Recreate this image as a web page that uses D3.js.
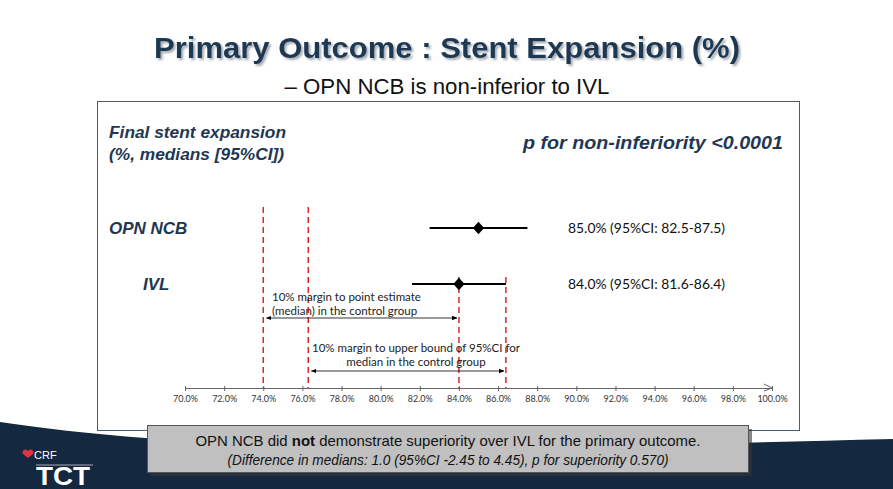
<!DOCTYPE html>
<html>
<head>
<meta charset="utf-8">
<script src="https://cdn.jsdelivr.net/npm/d3@7"></script>
<style>
  body { margin: 0; background: #fff; }
  svg { display: block; }
</style>
</head>
<body>
<svg id="chart" width="893" height="489"></svg>
<script>
// Chart data
const groups = ['OPN NCB', 'IVL'];
const medians = [85.0, 84.0];
const ciLow = [82.5, 81.6];
const ciHigh = [87.5, 86.4];
const resultLabels = ['85.0% (95%CI: 82.5-87.5)', '84.0% (95%CI: 81.6-86.4)'];
const xTicks = [70, 72, 74, 76, 78, 80, 82, 84, 86, 88, 90, 92, 94, 96, 98, 100];
// margin lines: 10% below control median, 10% below control upper CI bound
const marginLines = [74.0, 76.3];
const controlRefs = [84.0, 86.4];

const svg = d3.select('#chart');
const navy = '#1f3753';
const red = '#d8282e';
const narrow = '"Liberation Sans Narrow", "Arial Narrow", "Liberation Sans", sans-serif';
const calibri = 'Lato, "Open Sans", sans-serif';

const defs = svg.append('defs');
const shadow = defs.append('filter').attr('id', 'shadow')
    .attr('x', '-5%').attr('y', '-20%').attr('width', '110%').attr('height', '150%');
shadow.append('feDropShadow').attr('dx', 2).attr('dy', 2).attr('stdDeviation', 1)
    .attr('flood-color', '#7d8894').attr('flood-opacity', 0.7);

// bottom dark band
svg.append('rect').attr('x', 0).attr('y', 380).attr('width', 893).attr('height', 109).attr('fill', '#14283f');
svg.append('path')
    .attr('d', 'M0,380 L893,380 L893,439 Q600,446 447,452 Q150,445 0,422 Z')
    .attr('fill', '#fff');

// title
svg.append('text').attr('x', 447).attr('y', 58)
    .attr('text-anchor', 'middle').attr('font-family', narrow).attr('font-weight', 'bold')
    .attr('font-size', 30).attr('fill', navy).attr('filter', 'url(#shadow)')
    .attr('textLength', 586).attr('lengthAdjust', 'spacingAndGlyphs')
    .text('Primary Outcome : Stent Expansion (%)');
svg.append('text').attr('x', 447).attr('y', 94)
    .attr('text-anchor', 'middle').attr('font-family', narrow)
    .attr('font-size', 22).attr('fill', '#111')
    .attr('textLength', 325).attr('lengthAdjust', 'spacingAndGlyphs')
    .text('\u2013 OPN NCB is non-inferior to IVL');

// panel box
svg.append('rect').attr('x', 97.5).attr('y', 101.5).attr('width', 702).attr('height', 329)
    .attr('fill', '#fff').attr('stroke', '#4d5b6a').attr('stroke-width', 1);

// scales
const x = d3.scaleLinear().domain([70, 100]).range([185, 772]);
const y = d3.scalePoint().domain(groups).range([228, 284]);
const axisY = 388;

// headings
const head = svg.append('g').attr('font-family', '"Liberation Sans", Arial, sans-serif')
    .attr('font-weight', 'bold').attr('font-style', 'italic').attr('fill', navy);
head.append('text').attr('x', 109).attr('y', 138).attr('font-size', 17)
    .attr('textLength', 177).attr('lengthAdjust', 'spacingAndGlyphs').text('Final stent expansion');
head.append('text').attr('x', 109).attr('y', 160).attr('font-size', 17)
    .attr('textLength', 175).attr('lengthAdjust', 'spacingAndGlyphs').text('(%, medians [95%CI])');
head.append('text').attr('x', 523).attr('y', 149).attr('font-size', 18)
    .attr('textLength', 260).attr('lengthAdjust', 'spacingAndGlyphs').text('p for non-inferiority <0.0001');
head.selectAll('.grp').data(groups).enter().append('text')
    .attr('x', (d, i) => i === 0 ? 109 : 143)
    .attr('y', d => y(d) + 6)
    .attr('font-size', 17)
    .text(d => d);

// red dashed margin / reference lines
const dashed = svg.append('g').attr('stroke', red).attr('stroke-width', 1.5).attr('stroke-dasharray', '6,4');
dashed.selectAll('.m').data(marginLines).enter().append('line')
    .attr('x1', d => x(d)).attr('x2', d => x(d))
    .attr('y1', 207).attr('y2', axisY);
dashed.selectAll('.c').data(controlRefs).enter().append('line')
    .attr('x1', d => x(d)).attr('x2', d => x(d))
    .attr('y1', y('IVL') - 7).attr('y2', axisY);

// axis
const axis = d3.axisBottom(x).tickValues(xTicks).tickSize(3)
    .tickFormat(d => d.toFixed(1) + '%');
const ax = svg.append('g').attr('transform', `translate(0,${axisY})`).call(axis);
ax.select('.domain').attr('stroke', '#666');
ax.selectAll('.tick line').attr('stroke', '#666').attr('y1', -2);
ax.selectAll('.tick text').attr('font-family', calibri).attr('font-size', 9)
    .attr('fill', '#333').attr('dy', '0.9em');
ax.append('path').attr('d', `M${x(100) - 8},-4 L${x(100)},0 L${x(100) - 8},3`)
    .attr('fill', 'none').attr('stroke', '#666');

// CI lines and diamonds
const rows = svg.append('g');
rows.selectAll('.ci').data(groups).enter().append('line')
    .attr('x1', (d, i) => x(ciLow[i])).attr('x2', (d, i) => x(ciHigh[i]))
    .attr('y1', d => y(d)).attr('y2', d => y(d))
    .attr('stroke', '#000').attr('stroke-width', 2);
rows.selectAll('.pt').data(groups).enter().append('path')
    .attr('d', d3.symbol(d3.symbolDiamond2, 80))
    .attr('transform', (d, i) => `translate(${x(medians[i])},${y(d)}) scale(1,1.1)`)
    .attr('fill', '#000');
rows.selectAll('.lab').data(groups).enter().append('text')
    .attr('x', 568).attr('y', d => y(d) + 5)
    .attr('font-family', calibri).attr('font-size', 14).attr('fill', '#111')
    .attr('textLength', 157).attr('lengthAdjust', 'spacingAndGlyphs')
    .text((d, i) => resultLabels[i]);

// double arrows for margins
defs.append('marker').attr('id', 'ah').attr('viewBox', '0 0 10 10')
    .attr('refX', 9).attr('refY', 5).attr('markerWidth', 7).attr('markerHeight', 7)
    .attr('orient', 'auto-start-reverse')
    .append('path').attr('d', 'M0,1 L10,5 L0,9 Z').attr('fill', '#000');
const arrows = [
    { from: marginLines[0], to: controlRefs[0], y: 318, lines: ['10% margin to point estimate', '(median) in the control group'], tx: 272, anchor: 'start', ty: 301 },
    { from: marginLines[1], to: controlRefs[1], y: 371, lines: ['10% margin to upper bound of 95%CI for', 'median in the control group'], tx: 416, anchor: 'middle', ty: 352 }
];
arrows.forEach(a => {
    svg.append('line')
        .attr('x1', x(a.from) + 3).attr('x2', x(a.to) - 2)
        .attr('y1', a.y).attr('y2', a.y)
        .attr('stroke', '#000').attr('stroke-width', 0.8)
        .attr('marker-start', 'url(#ah)').attr('marker-end', 'url(#ah)');
    a.lines.forEach((t, k) => {
        svg.append('text').attr('x', a.tx).attr('y', a.ty + k * 14)
            .attr('text-anchor', a.anchor)
            .attr('font-family', calibri).attr('font-size', 11.5).attr('fill', '#222')
            .text(t);
    });
});

// callout box
svg.append('rect').attr('x', 150).attr('y', 429).attr('width', 602).attr('height', 47).attr('fill', '#333').attr('opacity', 0.6);
svg.append('rect').attr('x', 147.5).attr('y', 425.5).attr('width', 601).attr('height', 47)
    .attr('fill', '#c0c0c0').attr('stroke', '#555');
const l1 = svg.append('text').attr('x', 448).attr('y', 446).attr('text-anchor', 'middle')
    .attr('font-family', narrow).attr('font-size', 15).attr('fill', '#111')
    .attr('textLength', 505).attr('lengthAdjust', 'spacingAndGlyphs');
l1.append('tspan').text('OPN NCB did ');
l1.append('tspan').attr('font-weight', 'bold').text('not');
l1.append('tspan').text(' demonstrate superiority over IVL for the primary outcome.');
svg.append('text').attr('x', 448).attr('y', 465).attr('text-anchor', 'middle')
    .attr('font-family', narrow).attr('font-size', 14).attr('font-style', 'italic').attr('fill', '#111')
    .attr('textLength', 441).attr('lengthAdjust', 'spacingAndGlyphs')
    .text('(Difference in medians: 1.0 (95%CI -2.45 to 4.45), p for superiority 0.570)');

// logo
const logo = svg.append('g');
logo.append('path').attr('d', 'M28,458 l-5,-4 a2.6,2.6 0 0 1 5,-3 a2.6,2.6 0 0 1 5,3 z').attr('fill', '#e4313a');
logo.append('text').attr('x', 34).attr('y', 459).attr('font-family', narrow).attr('font-size', 11)
    .attr('fill', '#fff').text('CRF');
logo.append('line').attr('x1', 36).attr('x2', 93).attr('y1', 465).attr('y2', 465).attr('stroke', '#aab').attr('stroke-width', 1);
logo.append('text').attr('x', 36).attr('y', 485).attr('font-family', '"Liberation Sans", Arial, sans-serif')
    .attr('font-weight', 'bold').attr('font-size', 25).attr('fill', '#fff')
    .attr('textLength', 54).attr('lengthAdjust', 'spacingAndGlyphs').text('TCT');
</script>
</body>
</html>
